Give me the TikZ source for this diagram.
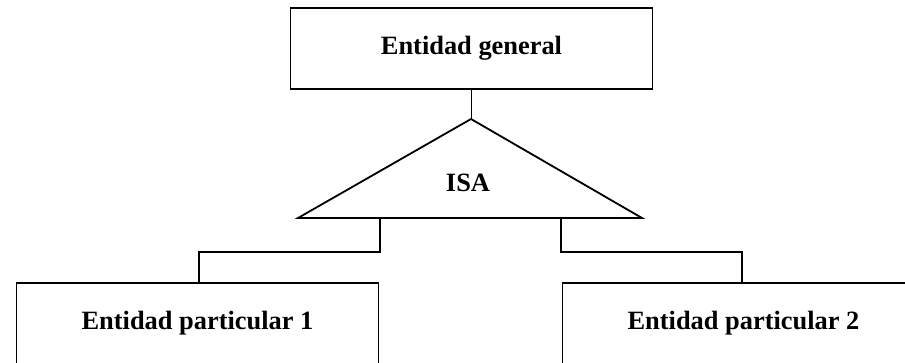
\documentclass[tikz,border=0pt]{standalone}
\usepackage{fontspec}
\setmainfont{Liberation Serif}
\begin{document}
\begin{tikzpicture}[x=1pt,y=-1pt,
  ln/.style={line width=1.8pt, line join=miter},
  entbox/.style={draw, line width=1.8pt, minimum width=362pt, minimum height=81pt, inner sep=0pt,
    font=\fontsize{26.4pt}{30pt}\selectfont\bfseries},
  lbl/.style={font=\fontsize{26.4pt}{30pt}\selectfont\bfseries, inner sep=0pt}]
\useasboundingbox (0,0) rectangle (905,362);
\clip (0,0) rectangle (905,362);
\node[entbox] (gen) at (471.5,48.5) {Entidad general};
\coordinate (apex) at (471,119);
\coordinate (bl) at (298,218);
\coordinate (br) at (642,218);
\draw[ln] (bl) -- (apex) -- (br) -- cycle;
\node[lbl] (isa) at (468,183) {ISA};
\draw[ln] (gen.south) -- (gen.south |- apex);
\node[entbox] (p1) at (197.5,323.5) {Entidad particular 1};
\node[entbox] (p2) at (743.5,323.5) {Entidad particular 2};
\coordinate (s1) at (380,218);
\coordinate (s2) at (561,218);
\coordinate (k1) at (199,252);
\coordinate (k2) at (742,252);
\draw[ln] (s1) |- (k1) -- (k1 |- p1.north);
\draw[ln] (s2) |- (k2) -- (k2 |- p2.north);
\end{tikzpicture}
\end{document}
